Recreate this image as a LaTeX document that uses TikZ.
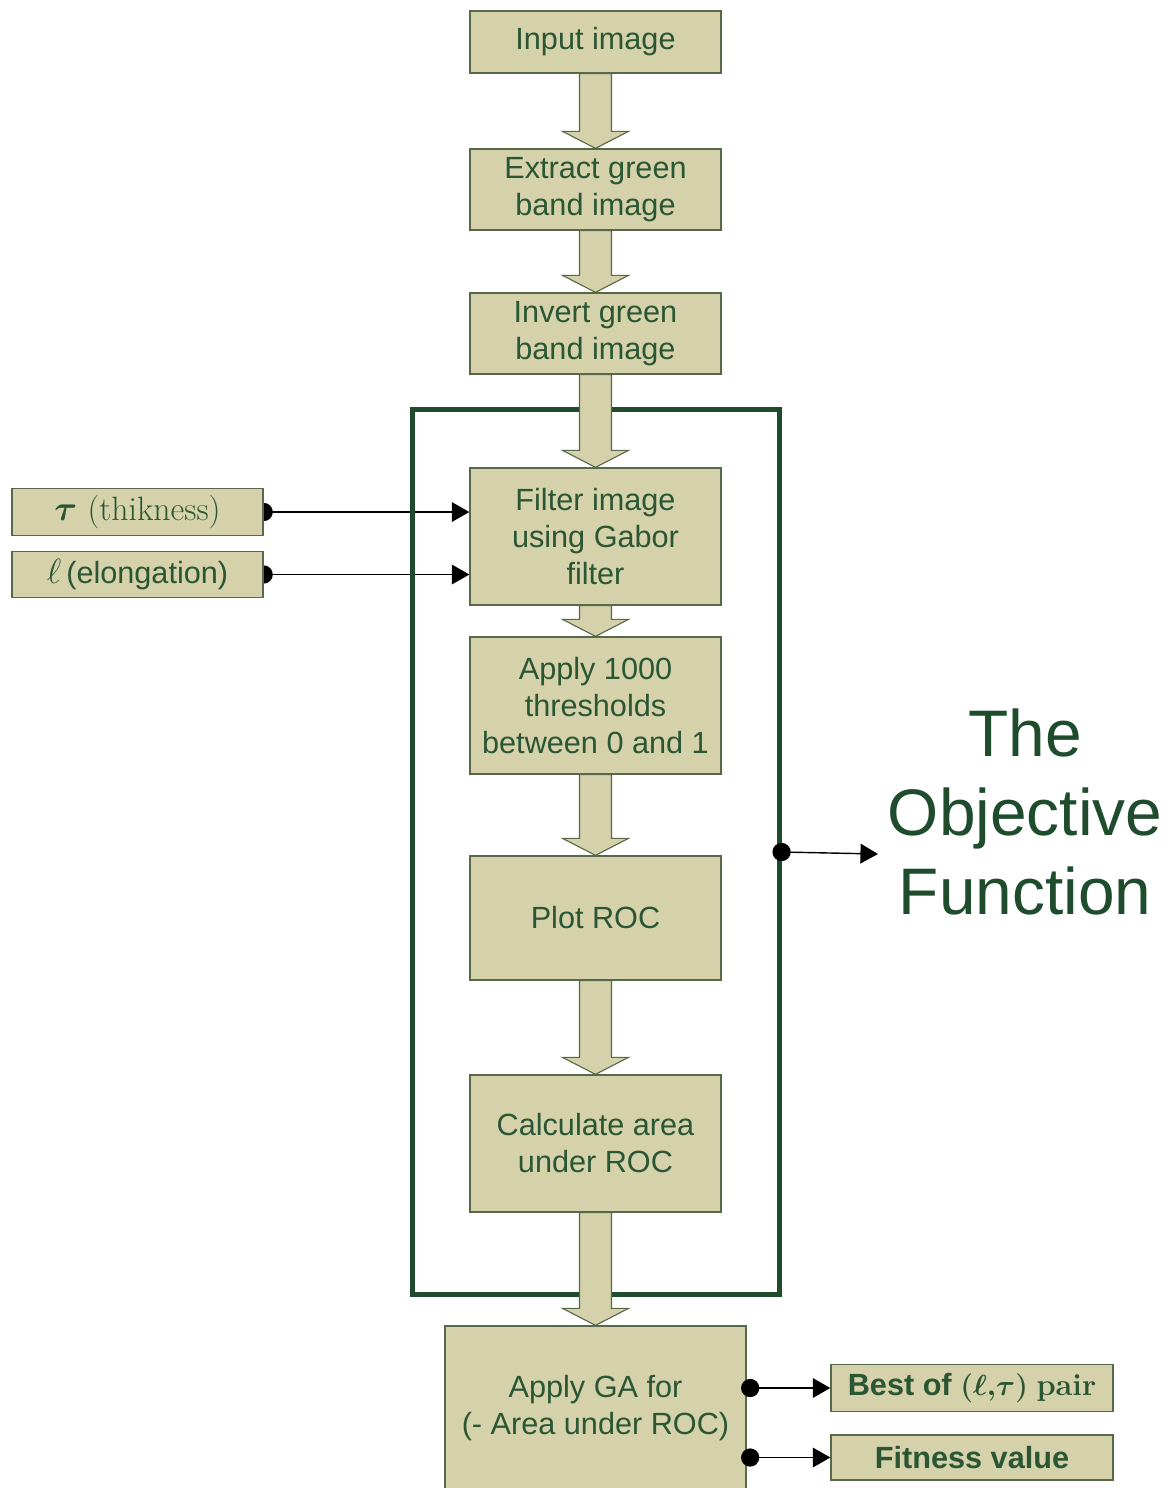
\documentclass[tikz,border=0pt]{standalone}
\usepackage{fontspec}
\usepackage{amsmath}
\usetikzlibrary{arrows.meta,calc,backgrounds}
\newfontfamily\arial{Liberation Sans}
\definecolor{boxfill}{RGB}{212,209,171}
\definecolor{boxline}{RGB}{88,104,74}
\definecolor{txtgreen}{RGB}{42,86,52}
\definecolor{framegreen}{RGB}{30,76,44}
\pgfdeclarelayer{lineslayer}
\pgfdeclarelayer{framelayer}
\pgfdeclarelayer{barrowlayer}
\pgfsetlayers{lineslayer,framelayer,barrowlayer,main}
\tikzset{
  box/.style={draw=boxline, fill=boxfill, line width=0.9pt, text=txtgreen,
    font=\arial\fontsize{21.8}{26.3}\selectfont, align=center, inner sep=0pt,
    minimum width=6.275cm},
  sidebox/.style={box, minimum height=1.16cm},
  frameline/.style={draw=framegreen, line width=3.6pt, inner sep=0pt},
  barrow/.style={fill=boxfill, draw=boxline, line width=0.8pt, line join=miter},
  conn/.style={line width=1pt, -{Triangle[length=12.5pt,width=14pt]}},
  dot/.style={fill=black}
}
\newcommand\blockarrow[2]{%
  \path[barrow] let \p1=(#1.south), \p2=(#2.north) in
    (\x1-11.4pt,\y1) -- (\x1-11.4pt,\y2+12.1pt) -- (\x1-23.5pt,\y2+12.1pt)
    -- (\x1,\y2) -- (\x1+23.5pt,\y2+12.1pt) -- (\x1+11.4pt,\y2+12.1pt)
    -- (\x1+11.4pt,\y1) -- cycle;}
\begin{document}
\begin{tikzpicture}[x=0.025cm, y=-0.025cm]
\useasboundingbox (0,0) rectangle (1173,1488);
% main column
\node[box, minimum height=1.55cm] (inp) at (595.5,42) {Input image};
\node[box, minimum height=2.025cm] (ext) at (595.5,189.5) {Extract green\\band image};
\node[box, minimum height=2.025cm] (inv) at (595.5,333.5) {Invert green\\band image};
\node[box, minimum height=3.425cm] (fil) at (595.5,536.5) {Filter image\\using Gabor\\filter};
\node[box, minimum height=3.425cm] (thr) at (595.5,705.5) {Apply 1000\\thresholds\\between 0 and 1};
\node[box, minimum height=3.1cm] (roc) at (595.5,918) {Plot ROC};
\node[box, minimum height=3.425cm] (auc) at (595.5,1143.5) {Calculate area\\under ROC};
\node[box, minimum width=7.525cm, minimum height=4.1cm] (ga) at (595.5,1408) {Apply GA for\\(- Area under ROC)};
% side boxes
\node[sidebox] (tau) at (137.5,512) {{\rmfamily\fontsize{24}{28}\selectfont\boldmath$\tau$ (thikness)}};
\node[sidebox] (ell) at (137.5,574.5) {{\fontsize{24}{28}\selectfont$\ell$}\,(elongation)};
\node[sidebox, minimum width=7.05cm] (best) at (972,1388) {\bfseries Best of {\boldmath$(\ell{,}\tau)$} {\rmfamily pair}};
\node[sidebox, minimum width=7.05cm, minimum height=1.125cm] (fit) at (972,1457.5) {\bfseries Fitness value};
% objective function label
\node[text=framegreen, font=\arial\fontsize{46.8}{56}\selectfont, align=center, inner sep=0pt] (obj) at (1025,812) {The\\Objective\\Function};
\coordinate (objtip) at (878,854);
% frame
\begin{pgfonlayer}{framelayer}
\node[frameline, minimum width=9.15cm, minimum height=22.1cm] (frame) at (596,852) {};
\end{pgfonlayer}
% block arrows
\begin{pgfonlayer}{barrowlayer}
\blockarrow{inp}{ext}
\blockarrow{ext}{inv}
\blockarrow{inv}{fil}
\blockarrow{fil}{thr}
\blockarrow{thr}{roc}
\blockarrow{roc}{auc}
\blockarrow{auc}{ga}
\end{pgfonlayer}
% input connectors
\begin{pgfonlayer}{lineslayer}
\fill[dot] (tau.east) circle (6.5pt);
\fill[dot] (ell.east) circle (6.5pt);
\draw[conn] (tau.east) -- (tau.east -| fil.west);
\draw[conn] (ell.east) -- (ell.east -| fil.west);
\end{pgfonlayer}
% output connectors
\draw[conn] (frame.east) -- (objtip);
\fill[dot] (frame.east) circle (6.5pt);
\draw[conn] (best.west -| ga.east) -- (best.west);
\fill[dot] ([xshift=2.5pt]best.west -| ga.east) circle (6.5pt);
\draw[conn] (fit.west -| ga.east) -- (fit.west);
\fill[dot] ([xshift=2.5pt]fit.west -| ga.east) circle (6.5pt);
\end{tikzpicture}
\end{document}
